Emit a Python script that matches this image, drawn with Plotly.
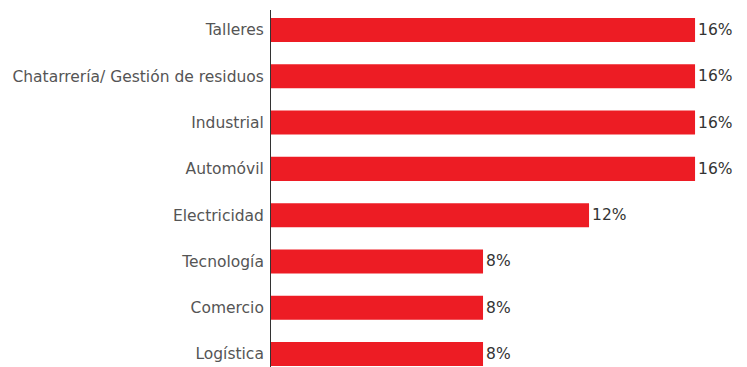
import plotly.graph_objects as go

categories = ["Talleres", "Chatarrería/ Gestión de residuos", "Industrial", "Automóvil",
              "Electricidad", "Tecnología", "Comercio", "Logística"]
values = [16, 16, 16, 16, 12, 8, 8, 8]
labels = [f"{v}%" for v in values]

FONT = "DejaVu Sans, sans-serif"

fig = go.Figure(go.Bar(
    y=categories, x=values, orientation="h",
    marker=dict(color="#ED1C24", line=dict(width=0)),
    text=labels, textposition="outside",
    textfont=dict(family=FONT, size=15.5, color="#333333"),
    cliponaxis=False, width=0.52,
))

fig.update_layout(
    width=747, height=367,
    margin=dict(l=271, r=0, t=10, b=0),
    paper_bgcolor="white", plot_bgcolor="white",
    showlegend=False,
    uniformtext=dict(minsize=15, mode="show"),
    xaxis=dict(range=[0, 17.96], visible=False, showgrid=False, zeroline=False),
    yaxis=dict(
        type="category", range=[7.28, -0.432],
        showline=True, linecolor="#333333", linewidth=1,
        showgrid=False, zeroline=False, ticks="",
        ticklabelstandoff=3,
        tickfont=dict(family=FONT, size=15.5, color="#555555"),
    ),
)

fig.write_html("out.html")
